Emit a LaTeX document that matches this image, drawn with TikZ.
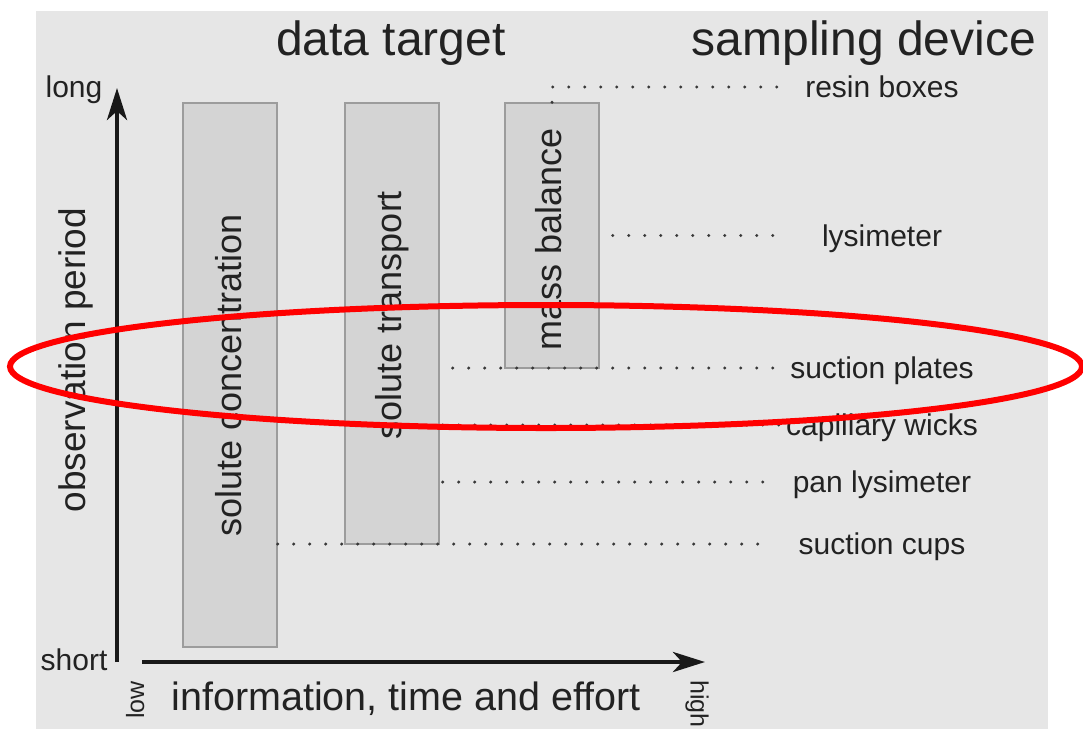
\documentclass[tikz,border=0pt]{standalone}
\usepackage{fontspec}
\setmainfont{Liberation Sans}
\usetikzlibrary{arrows.meta,positioning}
\definecolor{bgGray}{HTML}{E6E6E6}
\definecolor{boxGray}{HTML}{D4D4D4}
\definecolor{edgeGray}{HTML}{9C9C9C}
\definecolor{inkGray}{HTML}{222222}
\tikzset{
  target/.style={draw=edgeGray,fill=boxGray,line width=1.3pt,minimum width=94pt,inner sep=0pt},
  targettext/.style={rotate=90,text=inkGray,inner sep=0pt,text height=26pt,text depth=7.3pt,font=\fontsize{36}{40}\selectfont},
  device/.style={text=inkGray,inner sep=0pt,text height=22pt,text depth=0.6pt,font=\fontsize{30}{34}\selectfont},
  dotline/.style={draw=inkGray!90,line width=3.3pt,line cap=round,dash pattern=on 0pt off 16pt},
}
\begin{document}
\begin{tikzpicture}[x=1pt,y=-1pt,
    axis/.style={draw=black!90,line width=4.5pt,-{Stealth[length=32pt,width=20pt,inset=9pt]}},
    small/.style={text=inkGray,inner sep=0pt,font=\fontsize{30}{34}\selectfont},
    title/.style={text=inkGray,inner sep=0pt,anchor=base,font=\fontsize{48}{54}\selectfont}]
  \useasboundingbox (0,0) rectangle (1083,729);
  \fill[bgGray] (36,11) rectangle (1048,729);

  % headings
  \node[title] (dtarget) at (391,55) {data target};
  \node[title] (sdevice) at (864,55) {sampling device};

  % axes
  \coordinate (yfoot) at (117,662);
  \coordinate (ytop) at (117,88);
  \coordinate (xfoot) at (142,662);
  \coordinate (xtip) at (705,662);
  \draw[axis] (yfoot) -- (ytop);
  \draw[axis] (xfoot) -- (xtip);
  \node[small,anchor=base] (long) at (74,97) {long};
  \node[small,anchor=base] (short) at (74,670) {short};
  \node[small,rotate=90,text height=18pt,text depth=5pt,font=\fontsize{25}{28}\selectfont] (low) at (137.5,700) {low};
  \node[small,rotate=-90,text height=18pt,text depth=5pt,font=\fontsize{25}{28}\selectfont] (high) at (697,704) {high};
  \node[small,anchor=base,font=\fontsize{39.5}{44}\selectfont] (effort) at (406,710) {information, time and effort};
  \node[small,rotate=90,text height=26.5pt,text depth=7.5pt,font=\fontsize{37}{40}\selectfont] (period) at (76,360) {observation period};

  % data targets
  \node[target,minimum height=544pt] (conc) at (230,375) {};
  \node[target,minimum height=441pt] (transport) at (392,323.5) {};
  \node[target,minimum height=265pt] (mass) at (552,235.5) {};
  \node[targettext] at ([xshift=2.5pt]conc.center) {solute concentration};
  \node[targettext] at ([yshift=8.5pt]transport.center) {solute transport};
  \node[targettext] at ([yshift=-3.5pt]mass.center) {mass balance};

  % sampling devices
  \node[device] (resin) at (882,87) {resin boxes};
  \node[device] (lysi) at (882,235.5) {lysimeter};
  \node[device] (plates) at (882,368) {suction plates};
  \node[device] (wicks) at (882,425) {capillary wicks};
  \node[device] (pan) at (882,482) {pan lysimeter};
  \node[device] (cups) at (882,544) {suction cups};

  \draw[dotline,shorten >=20pt] (mass.north) |- (resin.west);
  \draw[dotline,shorten <=13pt,shorten >=45pt] (mass.east) -- (lysi.west);
  \draw[dotline,shorten <=13pt,shorten >=8pt] (transport.east |- plates.west) -- (plates.west);
  \draw[dotline,shorten <=3pt,shorten >=6pt] (transport.east |- wicks.west) -- (wicks.west);
  \draw[dotline,shorten <=3pt,shorten >=22pt] (transport.east |- pan.west) -- (pan.west);
  \draw[dotline,shorten >=32pt] (conc.east |- cups.west) -- (cups.west);

  % highlight
  \draw[red,line width=6pt] (546,366.5) ellipse [x radius=536pt,y radius=61.5pt];
\end{tikzpicture}
\end{document}
